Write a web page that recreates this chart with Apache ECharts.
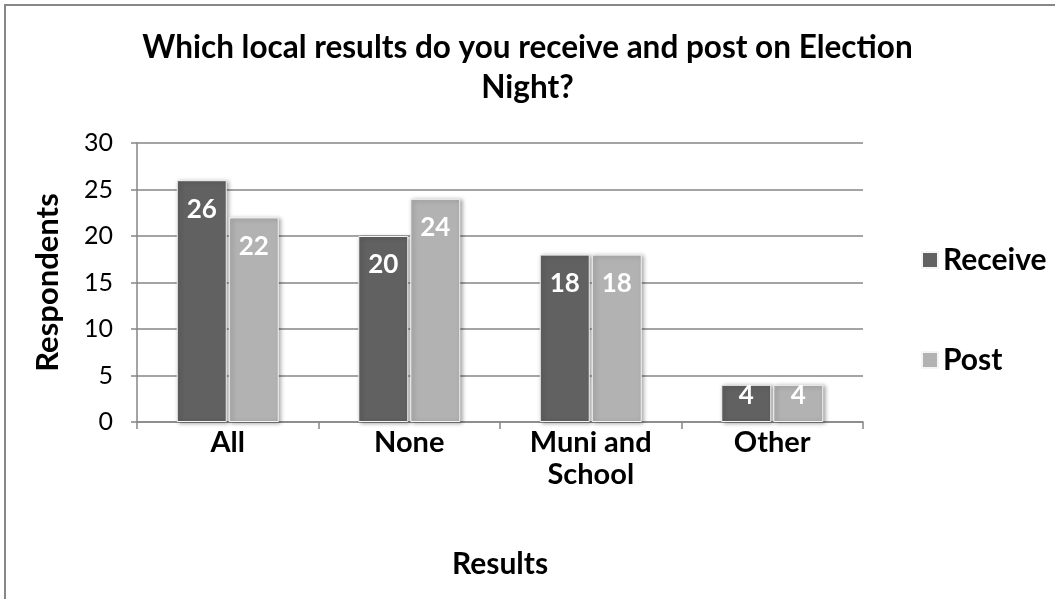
<!DOCTYPE html>
<html>
<head>
<meta charset="utf-8">
<script src="https://cdn.jsdelivr.net/npm/echarts@6/dist/echarts.min.js"></script>
<style>
html,body{margin:0;padding:0;background:#fff;}
#c{width:1055px;height:599px;}
</style>
</head>
<body>
<div id="c"></div>
<script>
const categories = ['All', 'None', 'Muni and\nSchool', 'Other'];
const receive = [26, 20, 18, 4];
const post = [22, 24, 18, 4];
const yTicks = [0, 5, 10, 15, 20, 25, 30];

const FONT = 'Lato, "Noto Sans", sans-serif';
const chart = echarts.init(document.getElementById('c'));
const barStyle = (color) => ({
  color: color,
  borderColor: '#f4f4f4',
  borderWidth: 1,
  shadowColor: 'rgba(0,0,0,0.35)',
  shadowBlur: 4,
  shadowOffsetX: 2,
  shadowOffsetY: 1
});
const labelStyle = {
  show: true,
  position: 'insideTop',
  distance: 16,
  color: '#ffffff',
  fontFamily: FONT,
  fontWeight: 'bold',
  fontSize: 26
};
// short bars: label pushed up to fit inside the bar (as in the source chart)
const toItems = (arr) => arr.map(v => v < 8 ? { value: v, label: { distance: -2 } } : v);
chart.setOption({
  animation: false,
  backgroundColor: '#ffffff',
  graphic: [{
    type: 'rect',
    shape: { x: 5, y: 5, width: 1200, height: 800 },
    style: { fill: 'none', stroke: '#878787', lineWidth: 2 },
    silent: true
  }],
  title: {
    text: 'Which local results do you receive and post on Election\nNight?',
    left: 'center',
    top: 23,
    textStyle: {
      fontFamily: FONT,
      fontWeight: 'bold',
      fontSize: 31.5,
      lineHeight: 40,
      color: '#000'
    }
  },
  legend: {
    orient: 'vertical',
    left: 916,
    top: 240,
    itemWidth: 16,
    itemHeight: 16,
    itemGap: 70,
    icon: 'rect',
    textStyle: {
      fontFamily: FONT,
      fontWeight: 'bold',
      fontSize: 30,
      color: '#000'
    },
    data: ['Receive', 'Post']
  },
  grid: { left: 137, right: 192, top: 143, bottom: 177, containLabel: false },
  xAxis: {
    type: 'category',
    data: categories,
    name: 'Results',
    nameLocation: 'middle',
    nameGap: 127,
    nameTextStyle: { fontFamily: FONT, fontWeight: 'bold', fontSize: 30, color: '#000' },
    axisLine: { lineStyle: { color: '#868686', width: 1.5 } },
    axisTick: { show: true, length: 7, lineStyle: { color: '#868686', width: 1.5 } },
    axisLabel: {
      fontFamily: FONT, fontWeight: 'bold', fontSize: 29, color: '#000',
      margin: 5, lineHeight: 32, interval: 0
    }
  },
  yAxis: {
    type: 'value',
    min: yTicks[0],
    max: yTicks[yTicks.length - 1],
    interval: 5,
    name: 'Respondents',
    nameLocation: 'middle',
    nameGap: 74,
    nameRotate: 90,
    nameTextStyle: { fontFamily: FONT, fontWeight: 'bold', fontSize: 31, color: '#000' },
    axisLine: { show: true, lineStyle: { color: '#868686', width: 1.5 } },
    axisTick: { show: true, length: 6, lineStyle: { color: '#868686', width: 1.5 } },
    splitLine: { show: true, lineStyle: { color: '#868686', width: 1.5 } },
    axisLabel: { fontFamily: FONT, fontSize: 25, color: '#000', margin: 24 }
  },
  series: [
    {
      name: 'Receive', type: 'bar', data: toItems(receive),
      barWidth: 50, barGap: '4%',
      itemStyle: barStyle('#616161'),
      label: labelStyle
    },
    {
      name: 'Post', type: 'bar', data: toItems(post),
      barWidth: 50,
      itemStyle: barStyle('#b2b2b2'),
      label: labelStyle
    }
  ]
});
</script>
</body>
</html>
